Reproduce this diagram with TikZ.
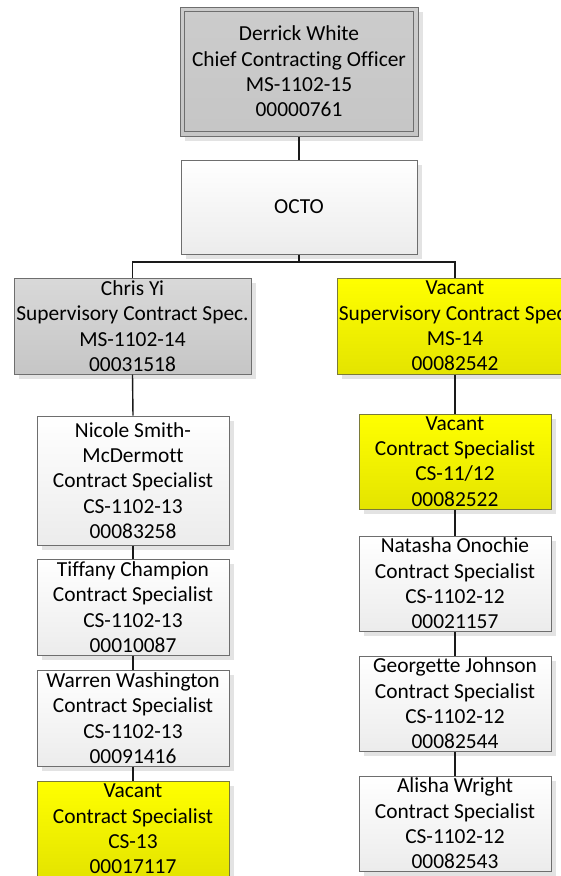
\documentclass[tikz,border=0pt]{standalone}
\usepackage{fontspec}
\setmainfont[Ligatures=NoCommon]{Carlito}
\usetikzlibrary{shadows}

\definecolor{edgegray}{HTML}{6E6E6E}
\definecolor{edgeolive}{HTML}{7A7A3A}
\definecolor{linkcol}{HTML}{1A1A1A}
\definecolor{shadowgray}{HTML}{E3E3E3}

\tikzset{
  orgbox/.style={draw=edgegray, line width=1pt, align=center, inner sep=0pt,
    text=black, font=\fontsize{21.4}{25.3}\selectfont,
    drop shadow={shadow xshift=5pt, shadow yshift=-5pt, fill=shadowgray, opacity=1}},
  graybox/.style={orgbox, top color=gray!30, bottom color=gray!45},
  headbox/.style={orgbox, top color=gray!40, bottom color=gray!45},
  whitebox/.style={orgbox, top color=white, bottom color=gray!15},
  vacantbox/.style={orgbox, draw=edgeolive, top color={rgb,255:red,255;green,255;blue,0}, bottom color={rgb,255:red,228;green,228;blue,0}},
  wide/.style={minimum width=237pt},
  narrow/.style={minimum width=192pt},
  tall/.style={minimum height=129pt},
  std/.style={minimum height=96pt},
  link/.style={draw=linkcol, line width=1.4pt}
}

\begin{document}
\begin{tikzpicture}[x=1pt, y=-1pt]
\useasboundingbox (0,0) rectangle (561,876);
\clip (0,0) rectangle (561,876);

% top of the chart
\node[headbox, minimum width=238pt, tall] (der) at (299,71.5)
  {Derrick White\\Chief Contracting Officer\\MS-1102-15\\00000761};
\draw[draw=edgegray, line width=1pt]
  ([xshift=5pt,yshift=-5pt]der.north west) rectangle ([xshift=-5pt,yshift=5pt]der.south east);

\node[whitebox, minimum width=236pt, minimum height=94pt] (octo) at (299,207) {OCTO};

% supervisors
\node[graybox, wide, std] (chris) at (132.5,326)
  {Chris Yi\\Supervisory Contract Spec.\\MS-1102-14\\00031518};
\node[vacantbox, minimum width=236pt, std] (vsup) at (455,326)
  {Vacant\\Supervisory Contract Spec.\\MS-14\\00082542};

% left team
\node[whitebox, narrow, tall] (nicole) at (133,480.5)
  {Nicole Smith-\\McDermott\\Contract Specialist\\CS-1102-13\\00083258};
\node[whitebox, narrow, std] (tiffany) at (133,607)
  {Tiffany Champion\\Contract Specialist\\CS-1102-13\\00010087};
\node[whitebox, narrow, std] (warren) at (133,718)
  {Warren Washington\\Contract Specialist\\CS-1102-13\\00091416};
\node[vacantbox, narrow, std] (vcs13) at (133,829)
  {Vacant\\Contract Specialist\\CS-13\\00017117};

% right team
\node[vacantbox, narrow, minimum height=95pt] (vcs12) at (455,461.5)
  {Vacant\\Contract Specialist\\CS-11/12\\00082522};
\node[whitebox, narrow, minimum height=95pt] (natasha) at (455,583.5)
  {Natasha Onochie\\Contract Specialist\\CS-1102-12\\00021157};
\node[whitebox, narrow, minimum height=95pt] (georgette) at (455,703.5)
  {Georgette Johnson\\Contract Specialist\\CS-1102-12\\00082544};
\node[whitebox, narrow, minimum height=95pt] (alisha) at (455,823.5)
  {Alisha Wright\\Contract Specialist\\CS-1102-12\\00082543};

% reporting lines
\coordinate (bus) at (299,262);
\draw[link] (der.south) -- (octo.north);
\draw[link] (octo.south) -- (bus);
\draw[link] (chris.north) |- (bus) -| (vsup.north);
\draw[link] (chris.south) -- (nicole.north);
\draw[link] (nicole.south) -- (tiffany.north);
\draw[link] (tiffany.south) -- (warren.north);
\draw[link] (warren.south) -- (vcs13.north);
\draw[link] (vsup.south) -- (vcs12.north);
\draw[link] (vcs12.south) -- (natasha.north);
\draw[link] (natasha.south) -- (georgette.north);
\draw[link] (georgette.south) -- (alisha.north);
\end{tikzpicture}
\end{document}
